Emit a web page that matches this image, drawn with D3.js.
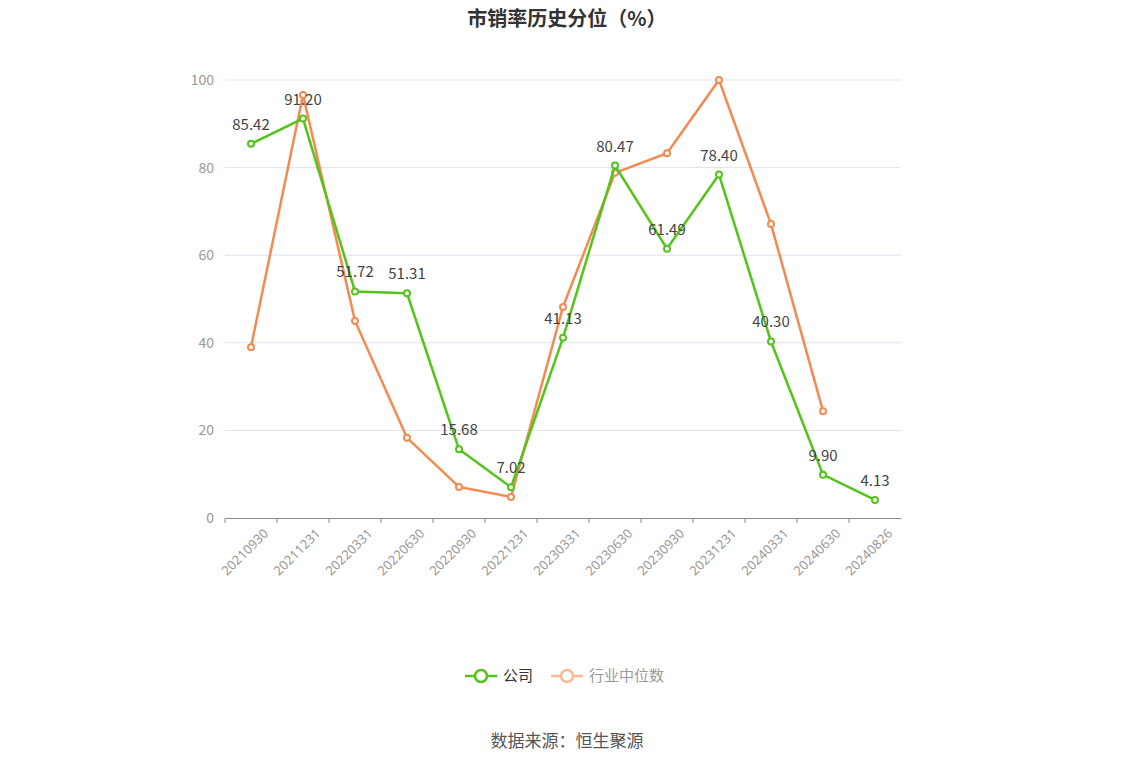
<!DOCTYPE html>
<html><head><meta charset="utf-8">
<script src="https://cdn.jsdelivr.net/npm/d3@7"></script>
<style>body{margin:0;background:#fff;font-family:"Noto Sans CJK SC","Noto Sans",sans-serif;}</style>
</head><body>
<script>
const dates = ["20210930","20211231","20220331","20220630","20220930","20221231","20230331","20230630","20230930","20231231","20240331","20240630","20240826"];
const company = [85.42,91.20,51.72,51.31,15.68,7.02,41.13,80.47,61.49,78.40,40.30,9.90,4.13];
const industry = [39.0,96.6,45.0,18.3,7.1,4.8,48.2,78.8,83.3,100,67.1,24.4,null];
const yTicks = [0,20,40,60,80,100];

const W = 1134, H = 766;
const svg = d3.select("body").append("svg").attr("width", W).attr("height", H);
const x = d3.scaleBand().domain(dates).range([225, 901]);
const y = d3.scaleLinear().domain([0, 100]).range([518, 80]);
const cx = d => x(d) + x.bandwidth() / 2;

svg.append("text").attr("x", W/2).attr("y", 26).attr("text-anchor", "middle")
  .attr("font-size", 20).attr("font-weight", "bold").attr("fill", "#333").text("市销率历史分位（%）");

svg.append("g").selectAll("line").data(yTicks.slice(1)).join("line")
  .attr("x1", 225).attr("x2", 901).attr("y1", d => y(d)).attr("y2", d => y(d))
  .attr("stroke", "#e0e3ee");
svg.append("g").selectAll("text").data(yTicks).join("text")
  .attr("x", 214).attr("y", d => y(d) + 5).attr("text-anchor", "end")
  .attr("font-size", 14).attr("fill", "#999").text(d => d);

const xa = svg.append("g").attr("transform", "translate(0,518)")
  .call(d3.axisBottom(x).tickSize(5).tickSizeOuter(0));
xa.select(".domain").attr("stroke", "#888");
xa.selectAll(".tick line").attr("stroke", "#888").attr("transform", `translate(${-x.bandwidth()/2},0)`);
xa.selectAll("text").attr("font-size", 13).attr("fill", "#999")
  .attr("font-family", "'Noto Sans',sans-serif")
  .attr("text-anchor", "end").attr("transform", "translate(6,4) rotate(-45)");

function series(data, color) {
  const pts = dates.map((d, i) => [d, data[i]]).filter(p => p[1] != null);
  svg.append("path").datum(pts)
    .attr("d", d3.line().x(p => cx(p[0])).y(p => y(p[1])))
    .attr("fill", "none").attr("stroke", color).attr("stroke-width", 2.5);
  svg.append("g").selectAll("circle").data(pts).join("circle")
    .attr("cx", p => cx(p[0])).attr("cy", p => y(p[1])).attr("r", 3)
    .attr("fill", "#fff").attr("stroke", color).attr("stroke-width", 2);
  return pts;
}
series(industry, "#f5894f");
const cp = series(company, "#52c41a");
svg.append("g").selectAll("text").data(cp).join("text")
  .attr("x", p => cx(p[0])).attr("y", p => y(p[1]) - 14).attr("text-anchor", "middle")
  .attr("font-size", 15).attr("fill", "#444").text(p => p[1].toFixed(2));

const leg = [["公司", "#52c41a", "#333", 465], ["行业中位数", "#fbb996", "#999", 551]];
leg.forEach(([t, c, tc, lx]) => {
  svg.append("line").attr("x1", lx).attr("x2", lx + 32).attr("y1", 676).attr("y2", 676)
    .attr("stroke", c).attr("stroke-width", 2.5);
  svg.append("circle").attr("cx", lx + 16).attr("cy", 676).attr("r", 6)
    .attr("fill", "#fff").attr("stroke", c).attr("stroke-width", 2.5);
  svg.append("text").attr("x", lx + 38).attr("y", 681).attr("font-size", 15).attr("fill", tc).text(t);
});

svg.append("text").attr("x", 567).attr("y", 747).attr("text-anchor", "middle")
  .attr("font-size", 17).attr("fill", "#555").text("数据来源：恒生聚源");
</script>
</body></html>
